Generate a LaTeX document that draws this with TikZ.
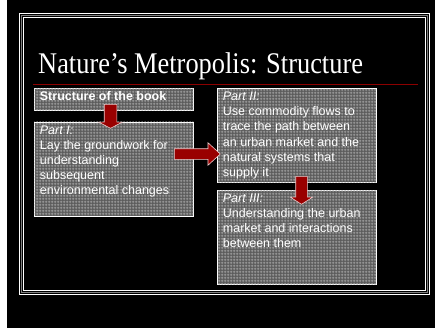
\documentclass[tikz,border=0pt]{standalone}
\usepackage{fontspec}
\setmainfont{Liberation Serif}[FakeStretch=0.88]
\setsansfont{Liberation Sans}
\usetikzlibrary{positioning}
\usetikzlibrary{shapes.arrows}
\usetikzlibrary{patterns.meta}

\definecolor{boxgray}{RGB}{92,92,92}
\definecolor{gridgray}{RGB}{178,178,178}
\definecolor{arrowred}{RGB}{153,0,0}
\definecolor{arrowrim}{RGB}{232,204,204}
\definecolor{rulered}{RGB}{140,0,0}

\tikzdeclarepattern{
  name=finegrid, type=uncolored,
  bottom left={(0pt,0pt)}, top right={(2.6pt,2.6pt)},
  tile size={(2.6pt,2.6pt)},
  code={\draw[line width=0.55pt] (0pt,1.3pt) -- (2.6pt,1.3pt) (1.3pt,0pt) -- (1.3pt,2.6pt);}
}

\tikzset{
  partbox/.style={draw=white, line width=0.8pt, fill=boxgray,
    postaction={pattern=finegrid, pattern color=gridgray},
    text=white, inner xsep=5.5pt, inner ysep=3.5pt, anchor=north west,
    font=\sffamily\fontsize{12.5}{15.2}\selectfont},
  blockarrow/.style={single arrow, fill=arrowred, draw=arrowrim,
    line width=0.6pt, anchor=tail},
}
\newcommand{\parttext}[2]{\parbox[t][#1][t]{148pt}{\raggedright #2}}

\begin{document}
\begin{tikzpicture}[x=1pt,y=-1pt]
	% slide
	\useasboundingbox (0,0) rectangle (435,329);
	\fill[white] (0,0) rectangle (435,329);
	\fill[black] (7,0) rectangle (435,328);
	\draw[white, line width=1pt] (19.5,13.5) rectangle (429.5,294);
	\draw[gray, line width=1pt] (21.5,15.5) rectangle (427.5,292);
	\draw[white, line width=1pt] (23.5,17.5) rectangle (425.5,290);

	% title
	\node[anchor=base west, inner sep=0pt, text=white, font=\fontsize{30}{34}\selectfont] (title) at (38,73) {Nature’s Metropolis: Structure};
	\draw[rulered, line width=1pt] (33,84) -- (418,84);

	% boxes
	\node[partbox] (book) at (34,88) {\parttext{15pt}{\bfseries Structure of the book}};
	\node[partbox,below=10.7pt of book.south west,anchor=north west] (part1) {\parttext{87pt}{\textit{Part I:}\\Lay the groundwork for\\understanding\\subsequent\\environmental changes}};
	\node[partbox] (part2) at (217,88) {\parttext{87pt}{\textit{Part II:}\\Use commodity flows to\\trace the path between\\an urban market and the\\natural systems that\\supply it}};
	\node[partbox,below=7pt of part2.south west,anchor=north west] (part3) {\parttext{87pt}{\textit{Part III:}\\Understanding the urban\\market and interactions\\between them}};

	% arrows
	\node[blockarrow, shape border rotate=270, inner sep=6pt, single arrow head extend=5.5pt, single arrow tip angle=125, minimum height=24pt] (a1) at (110.5,104) {};
	\node[blockarrow, inner sep=5pt, single arrow head extend=6pt, single arrow tip angle=85, minimum height=46pt] (a2) at (174,154) {};
	\node[blockarrow, shape border rotate=270, inner sep=5.5pt, single arrow head extend=5.5pt, single arrow tip angle=115, minimum height=28pt] (a3) at (301.5,176) {};
\end{tikzpicture}
\end{document}
